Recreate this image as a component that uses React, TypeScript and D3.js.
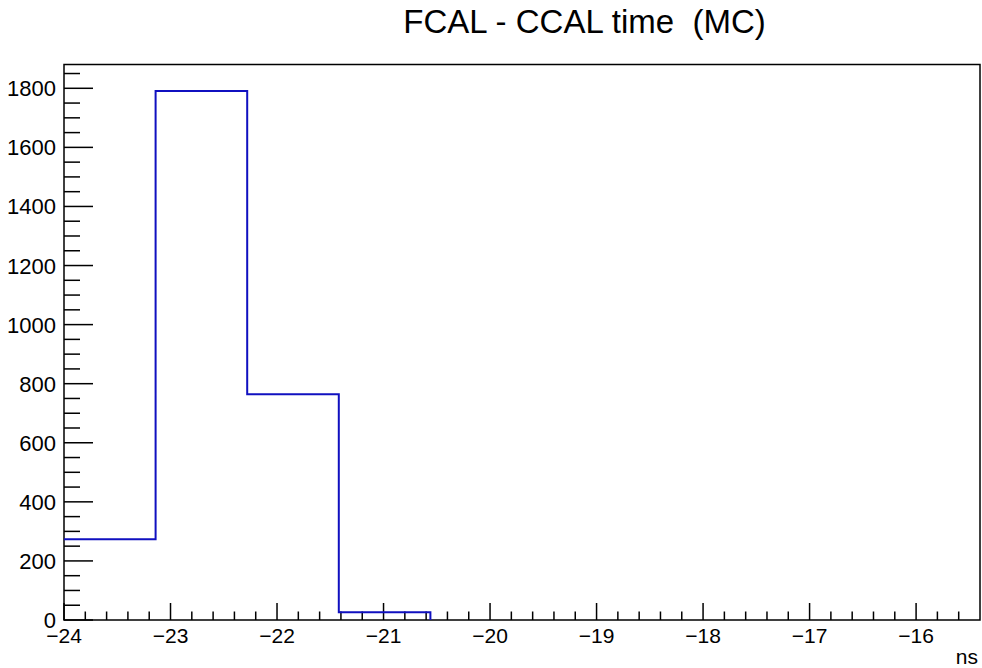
import * as d3 from 'd3';
import { useEffect, useRef } from 'react';

// histogram: 10 bins from -24 to -15.4 ns
const binEdges = [-24, -23.14, -22.28, -21.42, -20.56, -19.7, -18.84, -17.98, -17.12, -16.26, -15.4];
const counts = [273, 1791, 764, 26, 0, 0, 0, 0, 0, 0];
const xTicks = [-24, -23, -22, -21, -20, -19, -18, -17, -16];
const yTicks = [0, 200, 400, 600, 800, 1000, 1200, 1400, 1600, 1800];

const App = () => {
    const ref = useRef<SVGSVGElement>(null);

    useEffect(() => {
        const svg = d3.select(ref.current);
        svg.selectAll('*').remove();
        const width = 982;
        const height = 668;
        const margin = { top: 64.5, right: 2, bottom: 48, left: 64 };
        const font = 'Liberation Sans, Arial, sans-serif';

        const x = d3.scaleLinear()
            .domain([binEdges[0], binEdges[binEdges.length - 1]])
            .range([margin.left, width - margin.right]);
        const y = d3.scaleLinear()
            .domain([0, d3.max(counts)! * 1.05])
            .range([height - margin.bottom, margin.top]);

        const y0 = y(0);

        // frame
        svg.append('rect')
            .attr('x', margin.left).attr('y', margin.top)
            .attr('width', x.range()[1] - margin.left)
            .attr('height', y0 - margin.top)
            .attr('fill', 'none').attr('stroke', '#000').attr('stroke-width', 1.5);

        // x ticks (major 1, minor 0.2)
        const xMinor = d3.range(-24, -15.4, 0.2).map(v => +v.toFixed(2));
        svg.append('g').selectAll('line')
            .data(xMinor)
            .enter().append('line')
            .attr('x1', d => x(d)).attr('x2', d => x(d))
            .attr('y1', y0)
            .attr('y2', d => Math.abs(d - Math.round(d)) < 1e-6 ? y0 - 17 : y0 - 8.5)
            .attr('stroke', '#000').attr('stroke-width', 1.5);

        svg.append('g').selectAll('text')
            .data(xTicks)
            .enter().append('text')
            .attr('x', d => x(d)).attr('y', y0 + 23)
            .attr('text-anchor', 'middle')
            .attr('font-family', font).attr('font-size', 21)
            .text(d => `\u2212${Math.abs(d)}`);

        // y ticks (major 200, minor 50)
        const yMinor = d3.range(0, 1851, 50);
        svg.append('g').selectAll('line')
            .data(yMinor)
            .enter().append('line')
            .attr('x1', margin.left)
            .attr('x2', d => d % 200 === 0 ? margin.left + 29 : margin.left + 16)
            .attr('y1', d => y(d)).attr('y2', d => y(d))
            .attr('stroke', '#000').attr('stroke-width', 1.5);

        svg.append('g').selectAll('text')
            .data(yTicks)
            .enter().append('text')
            .attr('x', 56).attr('y', d => y(d) + 8)
            .attr('text-anchor', 'end')
            .attr('font-family', font).attr('font-size', 22)
            .text(d => d);

        // histogram outline, stops where it drops back to zero
        const pts: [number, number][] = [];
        counts.forEach((c, i) => {
            pts.push([x(binEdges[i]), y(c)]);
            pts.push([x(binEdges[i + 1]), y(c)]);
        });
        svg.append('path')
            .attr('d', d3.line()(pts.slice(0, 9)))
            .attr('fill', 'none')
            .attr('stroke', '#1010c0').attr('stroke-width', 2);

        // axis label
        svg.append('text')
            .attr('x', 978).attr('y', 664)
            .attr('text-anchor', 'end')
            .attr('font-family', font).attr('font-size', 21)
            .text('ns');

        // title
        svg.append('text')
            .attr('x', 584.5).attr('y', 33)
            .attr('text-anchor', 'middle')
            .attr('font-family', font).attr('font-size', 33)
            .style('white-space', 'pre')
            .text('FCAL - CCAL time  (MC)');
    }, []);

    return (
        <svg ref={ref} width="982" height="668"
            style={{ position: 'absolute', left: 0, top: 0, background: '#fff' }} />
    );
};

export default App;
